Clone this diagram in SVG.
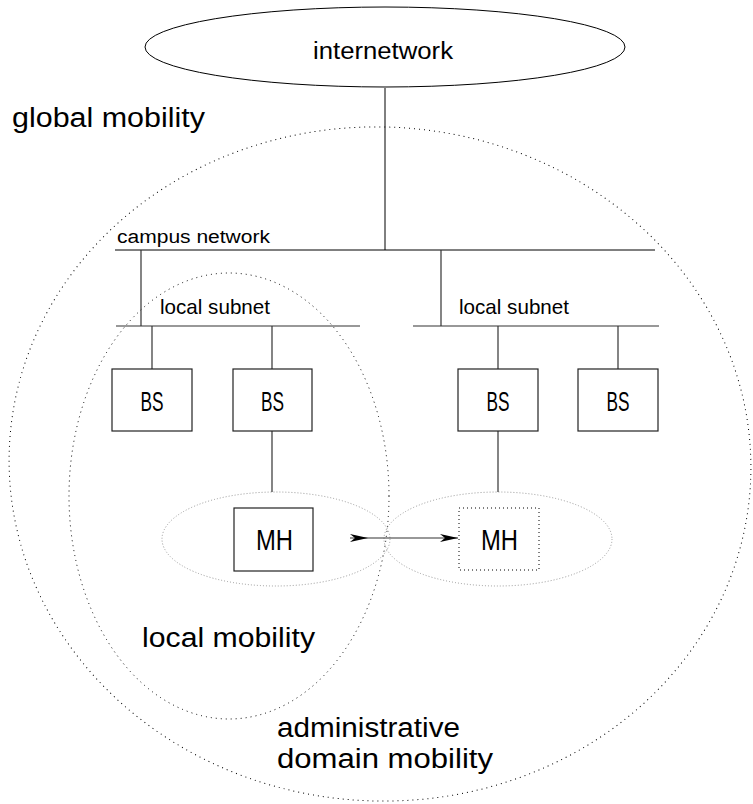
<svg xmlns="http://www.w3.org/2000/svg" width="753" height="804" viewBox="0 0 753 804">
<style>
text{font-family:"Liberation Sans",Arial,sans-serif;fill:#000}
.ln{stroke:#000;stroke-width:1;fill:none}
.sn{stroke:#333;stroke-width:1.2;fill:none}
.box{stroke:#222;stroke-width:1.2;fill:#fff}
.dotbig{stroke:#000;stroke-width:1;fill:none;stroke-dasharray:1 4}
.dotgray{stroke:#999;stroke-width:1;fill:none;stroke-dasharray:1 2}
.lbl{font-size:27px}
</style>
<defs>
<marker id="head" viewBox="0 -4 18 8" refX="18" refY="0" markerWidth="18" markerHeight="8" markerUnits="userSpaceOnUse" orient="auto">
<path d="M0,-4 L18,0 L0,4 L5,0 Z" fill="#000"/>
</marker>
<marker id="tail" viewBox="0 -4 18 8" refX="0" refY="0" markerWidth="18" markerHeight="8" markerUnits="userSpaceOnUse" orient="auto">
<path d="M0,-4 L18,0 L0,4 L5,0 Z" fill="#000"/>
</marker>
</defs>

<g id="regions">
<ellipse class="dotbig" cx="380" cy="464" rx="371" ry="337" transform="rotate(3 380 464)"/>
<ellipse class="dotbig" cx="229" cy="496" rx="160" ry="223"/>
<ellipse class="dotgray" cx="276" cy="539" rx="114" ry="47"/>
<ellipse class="dotgray" cx="498" cy="539" rx="114" ry="47"/>
<text class="lbl" x="12" y="127" textLength="193" lengthAdjust="spacingAndGlyphs">global mobility</text>
<text class="lbl" x="142" y="647" font-size="28" textLength="173" lengthAdjust="spacingAndGlyphs">local mobility</text>
<text class="lbl" x="277" y="737" textLength="183" lengthAdjust="spacingAndGlyphs">administrative</text>
<text class="lbl" x="277" y="768" textLength="216" lengthAdjust="spacingAndGlyphs">domain mobility</text>
</g>

<g id="connectors">
<line class="ln" x1="385" y1="88" x2="385" y2="250"/>
<line class="ln" x1="115" y1="250" x2="655" y2="250"/>
<line class="sn" x1="141" y1="250" x2="141" y2="326"/>
<line class="sn" x1="441" y1="250" x2="441" y2="326"/>
<line class="sn" x1="116" y1="326" x2="360" y2="326"/>
<line class="sn" x1="413" y1="326" x2="659" y2="326"/>
<line class="sn" x1="152" y1="326" x2="152" y2="369"/>
<line class="sn" x1="272" y1="326" x2="272" y2="369"/>
<line class="sn" x1="498" y1="326" x2="498" y2="369"/>
<line class="sn" x1="618" y1="326" x2="618" y2="369"/>
<line class="sn" x1="272" y1="431" x2="272" y2="492"/>
<line class="sn" x1="498" y1="431" x2="498" y2="492"/>
<line x1="350" y1="538" x2="458" y2="538" stroke="#333" stroke-width="1.2" marker-start="url(#tail)" marker-end="url(#head)"/>
<text x="117" y="243" font-size="18" textLength="153" lengthAdjust="spacingAndGlyphs">campus network</text>
<text x="160" y="314" font-size="21" textLength="110" lengthAdjust="spacingAndGlyphs">local subnet</text>
<text x="459" y="314" font-size="21" textLength="110" lengthAdjust="spacingAndGlyphs">local subnet</text>
</g>

<g id="internetwork">
<ellipse cx="385" cy="47" rx="240" ry="40" fill="#fff" stroke="#000" stroke-width="1"/>
<text x="313" y="59" font-size="23" textLength="140" lengthAdjust="spacingAndGlyphs">internetwork</text>
</g>

<g id="bs1">
<rect class="box" x="112" y="369" width="80" height="62"/>
<text x="140.5" y="411" font-size="27" textLength="23" lengthAdjust="spacingAndGlyphs">BS</text>
</g>
<g id="bs2">
<rect class="box" x="233" y="369" width="79" height="62"/>
<text x="261" y="411" font-size="27" textLength="23" lengthAdjust="spacingAndGlyphs">BS</text>
</g>
<g id="bs3">
<rect class="box" x="458" y="369" width="80" height="62"/>
<text x="486.5" y="411" font-size="27" textLength="23" lengthAdjust="spacingAndGlyphs">BS</text>
</g>
<g id="bs4">
<rect class="box" x="578" y="369" width="80" height="62"/>
<text x="606.5" y="411" font-size="27" textLength="23" lengthAdjust="spacingAndGlyphs">BS</text>
</g>

<g id="mh1">
<rect class="box" x="234" y="508" width="79" height="63"/>
<text x="256" y="550" font-size="30" textLength="37" lengthAdjust="spacingAndGlyphs">MH</text>
</g>
<g id="mh2">
<rect x="459" y="508" width="80" height="62" fill="none" stroke="#000" stroke-width="1" stroke-dasharray="1 3"/>
<text x="481" y="550" font-size="30" textLength="37" lengthAdjust="spacingAndGlyphs">MH</text>
</g>
</svg>
